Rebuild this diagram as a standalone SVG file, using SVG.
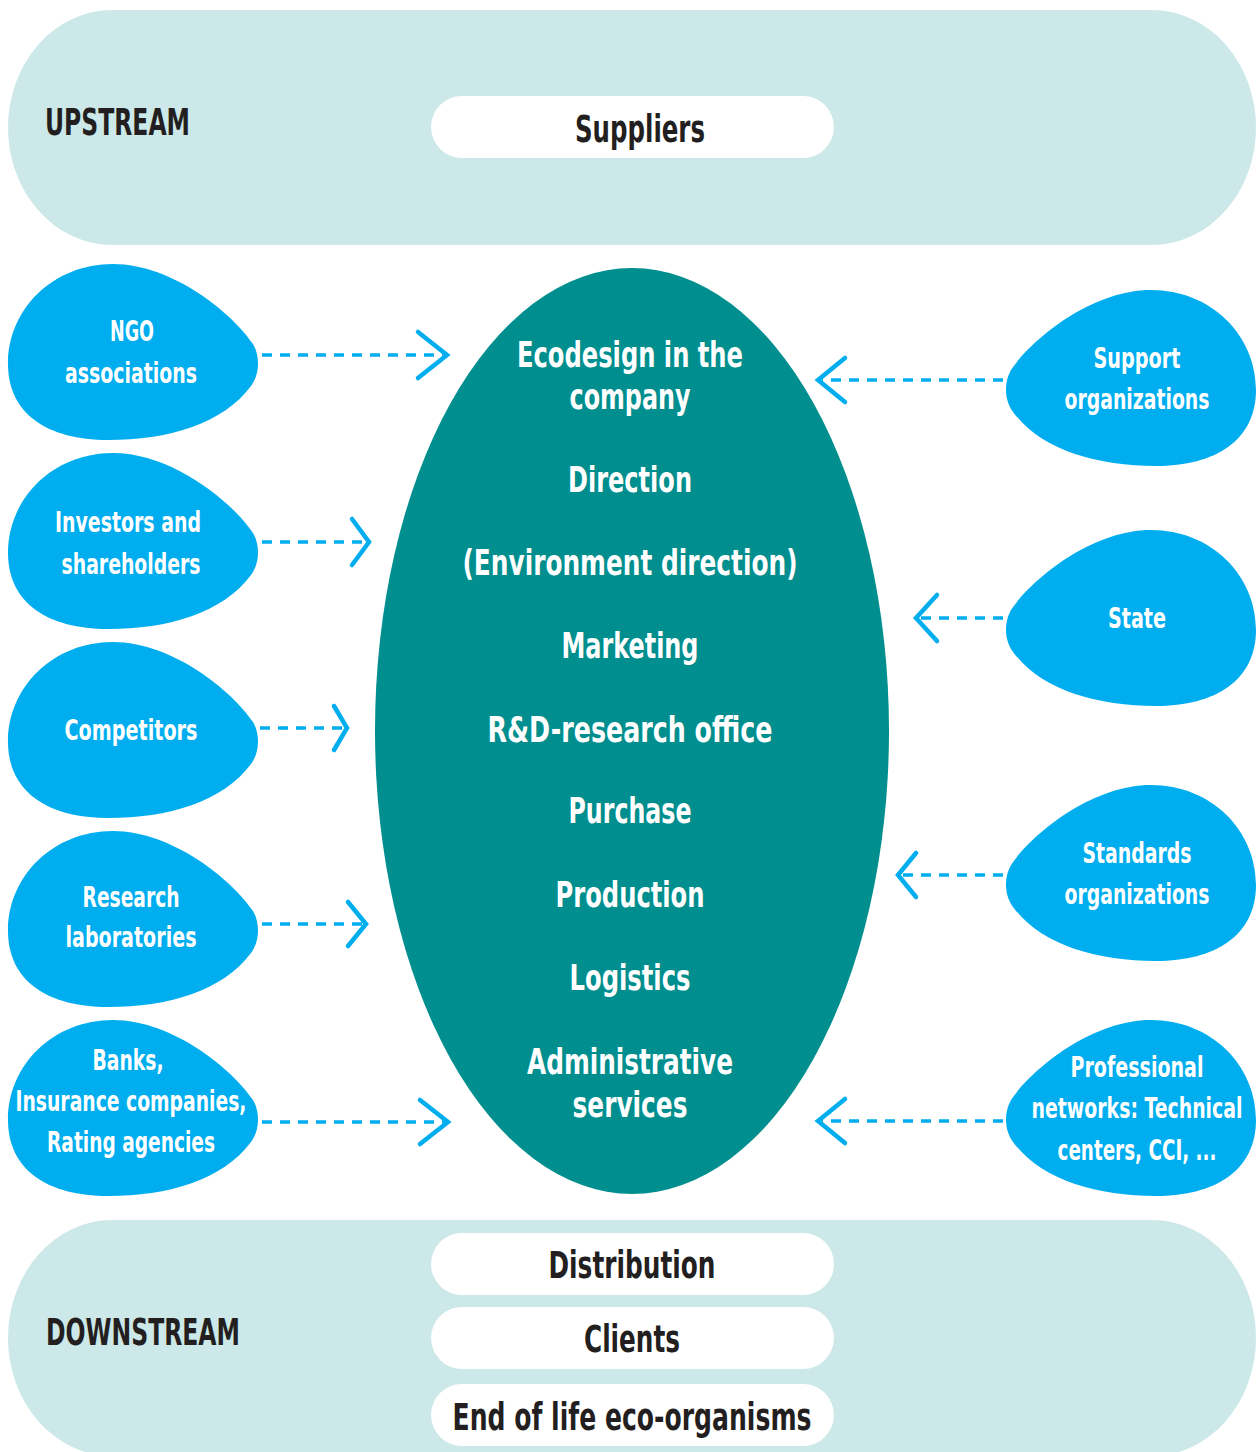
<svg xmlns="http://www.w3.org/2000/svg" xmlns:xlink="http://www.w3.org/1999/xlink" width="1258" height="1452" viewBox="0 0 1258 1452">
<style>
.band{fill:#cde8e9}
.pill{fill:#ffffff}
text{font-family:"DejaVu Sans Condensed","Liberation Sans",sans-serif;font-weight:bold}
.hdr{font-size:38px;fill:#231f20}
.ptxt{font-size:37px;fill:#231f20;text-anchor:middle}
.ell{fill:#008e8e}
.etxt{font-size:36px;fill:#ffffff;text-anchor:middle}
.blob{fill:#00aeef}
.btxt{font-size:29px;fill:#ffffff;text-anchor:middle}
.dash{stroke:#00aeef;stroke-width:3.5;stroke-dasharray:10 8;fill:none}
.head{stroke:#00aeef;stroke-width:4.5;fill:none;stroke-linecap:round;stroke-linejoin:miter}
</style>
<defs>
<path id="blobL" d="M0,100 C0,45 45,0 105,0 C165,0 225,50 245,80 C252,92 252,110 243,122 C215,160 160,176 100,176 C40,176 0,150 0,100 Z"/>
</defs>

<g id="upstream">
<rect class="band" x="8" y="10" width="1248" height="235" rx="104" ry="117.5"/>
<text class="hdr" x="45" y="135" textLength="145" lengthAdjust="spacingAndGlyphs">UPSTREAM</text>
<rect class="pill" x="431" y="96" width="403" height="62" rx="31" ry="31"/>
<text class="ptxt" x="640" y="142" textLength="130" lengthAdjust="spacingAndGlyphs">Suppliers</text>
</g>

<g id="downstream">
<rect class="band" x="8" y="1220" width="1248" height="236" rx="104" ry="118"/>
<text class="hdr" x="46" y="1345" textLength="194" lengthAdjust="spacingAndGlyphs">DOWNSTREAM</text>
<rect class="pill" x="431" y="1233" width="403" height="62" rx="31" ry="31"/>
<text class="ptxt" x="632" y="1278" textLength="167" lengthAdjust="spacingAndGlyphs">Distribution</text>
<rect class="pill" x="431" y="1307" width="403" height="62" rx="31" ry="31"/>
<text class="ptxt" x="632" y="1352" textLength="96" lengthAdjust="spacingAndGlyphs">Clients</text>
<rect class="pill" x="431" y="1384" width="403" height="62" rx="31" ry="31"/>
<text class="ptxt" x="632" y="1430" textLength="359" lengthAdjust="spacingAndGlyphs">End of life eco-organisms</text>
</g>

<g id="company">
<ellipse class="ell" cx="632" cy="731" rx="257" ry="463"/>
<text class="etxt" x="630" y="367" textLength="226" lengthAdjust="spacingAndGlyphs">Ecodesign in the</text>
<text class="etxt" x="630" y="409" textLength="121" lengthAdjust="spacingAndGlyphs">company</text>
<text class="etxt" x="630" y="492" textLength="124" lengthAdjust="spacingAndGlyphs">Direction</text>
<text class="etxt" x="630" y="575" textLength="335" lengthAdjust="spacingAndGlyphs">(Environment direction)</text>
<text class="etxt" x="630" y="658" textLength="137" lengthAdjust="spacingAndGlyphs">Marketing</text>
<text class="etxt" x="630" y="742" textLength="285" lengthAdjust="spacingAndGlyphs">R&amp;D-research office</text>
<text class="etxt" x="630" y="823" textLength="123" lengthAdjust="spacingAndGlyphs">Purchase</text>
<text class="etxt" x="630" y="907" textLength="149" lengthAdjust="spacingAndGlyphs">Production</text>
<text class="etxt" x="630" y="990" textLength="121" lengthAdjust="spacingAndGlyphs">Logistics</text>
<text class="etxt" x="630" y="1074" textLength="206" lengthAdjust="spacingAndGlyphs">Administrative</text>
<text class="etxt" x="630" y="1117" textLength="115" lengthAdjust="spacingAndGlyphs">services</text>
</g>

<g id="ngo">
<use href="#blobL" class="blob" transform="translate(8,264)"/>
<text class="btxt" x="132" y="341" textLength="44" lengthAdjust="spacingAndGlyphs">NGO</text>
<text class="btxt" x="131" y="383" textLength="132" lengthAdjust="spacingAndGlyphs">associations</text>
</g>
<g id="investors">
<use href="#blobL" class="blob" transform="translate(8,453)"/>
<text class="btxt" x="128" y="532" textLength="146" lengthAdjust="spacingAndGlyphs">Investors and</text>
<text class="btxt" x="131" y="574" textLength="139" lengthAdjust="spacingAndGlyphs">shareholders</text>
</g>
<g id="competitors">
<use href="#blobL" class="blob" transform="translate(8,642)"/>
<text class="btxt" x="131" y="740" textLength="133" lengthAdjust="spacingAndGlyphs">Competitors</text>
</g>
<g id="research">
<use href="#blobL" class="blob" transform="translate(8,831)"/>
<text class="btxt" x="131" y="907" textLength="97" lengthAdjust="spacingAndGlyphs">Research</text>
<text class="btxt" x="131" y="947" textLength="131" lengthAdjust="spacingAndGlyphs">laboratories</text>
</g>
<g id="banks">
<use href="#blobL" class="blob" transform="translate(8,1020)"/>
<text class="btxt" x="128" y="1070" textLength="71" lengthAdjust="spacingAndGlyphs">Banks,</text>
<text class="btxt" x="131" y="1111" textLength="231" lengthAdjust="spacingAndGlyphs">Insurance companies,</text>
<text class="btxt" x="131" y="1152" textLength="168" lengthAdjust="spacingAndGlyphs">Rating agencies</text>
</g>

<g id="support">
<use href="#blobL" class="blob" transform="translate(1256,290) scale(-1,1)"/>
<text class="btxt" x="1137" y="368" textLength="87" lengthAdjust="spacingAndGlyphs">Support</text>
<text class="btxt" x="1137" y="409" textLength="145" lengthAdjust="spacingAndGlyphs">organizations</text>
</g>
<g id="state">
<use href="#blobL" class="blob" transform="translate(1256,530) scale(-1,1)"/>
<text class="btxt" x="1137" y="628" textLength="58" lengthAdjust="spacingAndGlyphs">State</text>
</g>
<g id="standards">
<use href="#blobL" class="blob" transform="translate(1256,785) scale(-1,1)"/>
<text class="btxt" x="1137" y="863" textLength="109" lengthAdjust="spacingAndGlyphs">Standards</text>
<text class="btxt" x="1137" y="904" textLength="145" lengthAdjust="spacingAndGlyphs">organizations</text>
</g>
<g id="professional">
<use href="#blobL" class="blob" transform="translate(1256,1020) scale(-1,1)"/>
<text class="btxt" x="1137" y="1077" textLength="133" lengthAdjust="spacingAndGlyphs">Professional</text>
<text class="btxt" x="1137" y="1118" textLength="211" lengthAdjust="spacingAndGlyphs">networks: Technical</text>
<text class="btxt" x="1137" y="1160" textLength="159" lengthAdjust="spacingAndGlyphs">centers, CCI, ...</text>
</g>

<g id="connectors">
<line class="dash" x1="262" y1="355" x2="443" y2="355"/>
<polyline class="head" points="418,332 447,355 418,378"/>
<line class="dash" x1="262" y1="542" x2="365" y2="542"/>
<polyline class="head" points="352,519 369,542 352,565"/>
<line class="dash" x1="260" y1="728" x2="343" y2="728"/>
<polyline class="head" points="334,706 347,728 334,750"/>
<line class="dash" x1="262" y1="924" x2="362" y2="924"/>
<polyline class="head" points="348,902 366,924 348,946"/>
<line class="dash" x1="262" y1="1122" x2="444" y2="1122"/>
<polyline class="head" points="420,1100 448,1122 420,1144"/>

<line class="dash" x1="1003" y1="380" x2="822" y2="380"/>
<polyline class="head" points="845,358 818,380 845,402"/>
<line class="dash" x1="1003" y1="618" x2="920" y2="618"/>
<polyline class="head" points="937,595 916,618 937,641"/>
<line class="dash" x1="1003" y1="875" x2="902" y2="875"/>
<polyline class="head" points="916,853 898,875 916,897"/>
<line class="dash" x1="1003" y1="1121" x2="822" y2="1121"/>
<polyline class="head" points="845,1099 818,1121 845,1143"/>
</g>
</svg>
